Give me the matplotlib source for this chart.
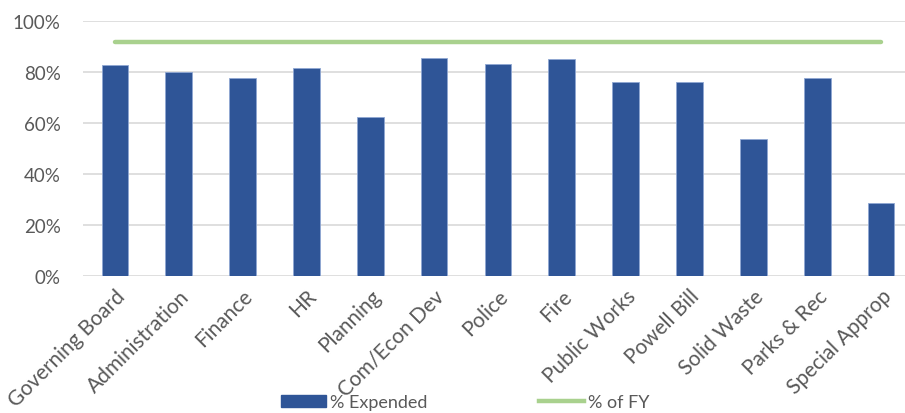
import numpy as np
import matplotlib.pyplot as plt
from matplotlib.ticker import PercentFormatter
from matplotlib.lines import Line2D
from matplotlib.patches import Patch

departments = ["Governing Board", "Administration", "Finance", "HR", "Planning",
               "Com/Econ Dev", "Police", "Fire", "Public Works", "Powell Bill",
               "Solid Waste", "Parks & Rec", "Special Approp"]
pct_expended = [82.7, 79.8, 77.5, 81.7, 62.5, 85.3, 83.1, 85.1, 76.0, 76.0, 53.7, 77.6, 28.7]
pct_of_fy = [91.8] * len(departments)

plt.rcParams['font.family'] = ['Lato', 'DejaVu Sans']

fig = plt.figure(figsize=(9.05, 4.14), dpi=100)
ax = fig.add_axes([0.0917, 0.331, 0.917, 0.616])

x = np.arange(len(departments))
ax.bar(x, pct_expended, width=0.42, color="#2F5597", edgecolor="#8FA7D3",
       linewidth=0.6, zorder=3)
ax.plot(x, pct_of_fy, color="#A9D18E", linewidth=3.2, solid_capstyle="round", zorder=4)

ax.set_xlim(-0.5, len(departments) - 0.5)
ax.set_ylim(0, 100)
ax.set_yticks(np.arange(0, 101, 20))
ax.yaxis.set_major_formatter(PercentFormatter(decimals=0))
ax.grid(axis="y", color="#D9D9D9", linewidth=1.2, zorder=0)
for s in ax.spines.values():
    s.set_visible(False)
ax.tick_params(axis="both", length=0, labelcolor="#595959")
ax.tick_params(axis="y", pad=16, labelsize=13.5)
ax.set_xticks(x)
ax.set_xticklabels(departments, rotation=45, ha="right", rotation_mode="anchor")
ax.tick_params(axis="x", pad=7, labelsize=15)

handles = [Patch(facecolor="#2F5597", edgecolor="#2F5597"),
           Line2D([0], [0], color="#A9D18E", linewidth=3.2)]
fig.legend(handles, ["% Expended", "% of FY"], loc="center", ncol=2,
           bbox_to_anchor=(0.514, 0.026), frameon=False, fontsize=13,
           labelcolor="#595959", columnspacing=6.2, handlelength=2.5,
           handletextpad=0.2, borderpad=0)

fig.savefig("out.png", dpi=100)
